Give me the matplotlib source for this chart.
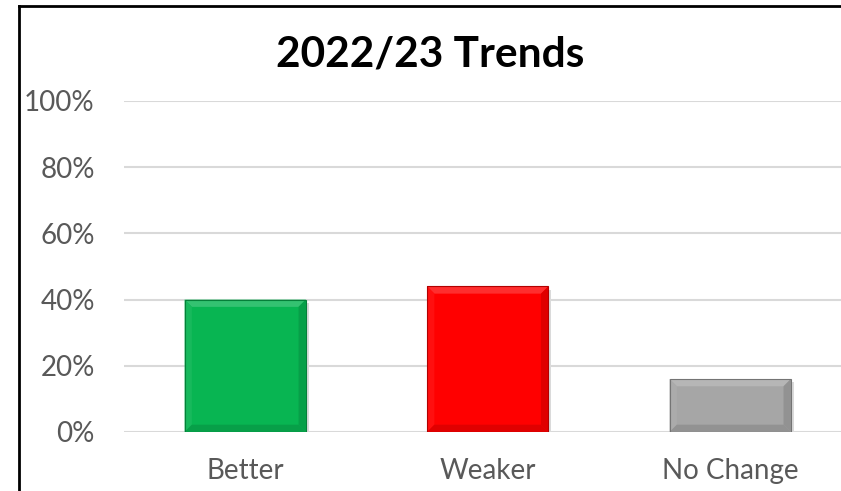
import matplotlib.pyplot as plt
from matplotlib.patches import Polygon
import matplotlib.colors as mcolors

categories = ['Better', 'Weaker', 'No Change']
shares = [0.40, 0.44, 0.16]
bar_colors = ['#08B552', '#FF0000', '#A6A6A6']
yticks = [0, 0.2, 0.4, 0.6, 0.8, 1.0]

plt.rcParams['font.family'] = ['Lato', 'DejaVu Sans']

fig = plt.figure(figsize=(8.41, 4.91), dpi=100)
ax = fig.add_axes([0.1474, 0.1202, 0.865, 0.6741])

width = 0.5
bars = ax.bar(range(len(categories)), shares, width=width, color=bar_colors,
              edgecolor='none', zorder=3)

# bevel look: light top, slightly darker bottom/right
bx, by = 0.03, 0.022
for rect, col in zip(bars, bar_colors):
    x0, y0 = rect.get_x(), rect.get_y()
    x1, y1 = x0 + rect.get_width(), y0 + rect.get_height()
    base = mcolors.to_rgb(col)
    light = tuple(min(1, c + (1 - c) * 0.18) for c in base)
    dark = tuple(c * 0.88 for c in base)
    edge = tuple(c * 0.7 for c in base)
    faces = [
        ([(x0, y1), (x1, y1), (x1 - bx, y1 - by), (x0 + bx, y1 - by)], light),
        ([(x0, y0), (x0, y1), (x0 + bx, y1 - by), (x0 + bx, y0 + by)], tuple(min(1, c + (1 - c) * 0.06) for c in base)),
        ([(x1, y0), (x1, y1), (x1 - bx, y1 - by), (x1 - bx, y0 + by)], dark),
        ([(x0, y0), (x1, y0), (x1 - bx, y0 + by), (x0 + bx, y0 + by)], dark),
    ]
    for pts, fc in faces:
        ax.add_patch(Polygon(pts, closed=True, facecolor=fc, edgecolor='none', zorder=4))
    ax.add_patch(Polygon([(x0, y0), (x1, y0), (x1, y1), (x0, y1)], closed=True,
                         facecolor='none', edgecolor=edge, linewidth=0.8, zorder=5))
    # soft shadow
    ax.add_patch(Polygon([(x0 + 0.01, y0 - 0.008), (x1 + 0.012, y0 - 0.008),
                          (x1 + 0.012, y1 - 0.01), (x1, y1 - 0.01), (x1, y0), (x0 + 0.01, y0)],
                         closed=True, facecolor='#DADADA', edgecolor='none', zorder=2))

ax.set_xlim(-0.5, 2.5)
ax.set_ylim(0, 1.0)
ax.set_yticks(yticks)
ax.set_yticklabels([f'{int(round(t * 100))}%' for t in yticks])
ax.set_xticks(range(len(categories)))
ax.set_xticklabels(categories)
ax.tick_params(axis='both', length=0, labelsize=20, colors='#595959')
ax.tick_params(axis='y', pad=21)
ax.tick_params(axis='x', pad=19)
ax.grid(axis='y', color='#D9D9D9', linewidth=1.5, zorder=0)
ax.set_axisbelow(True)
for s in ax.spines.values():
    s.set_visible(False)

fig.text(0.512, 0.89, '2022/23 Trends', ha='center', va='center',
         fontsize=30.5, fontweight='bold', color='black')

# chart frame (only left and top edges fall inside the image)
fig.add_artist(plt.Line2D([18.5 / 841, 18.5 / 841], [0, 1 - 5.5 / 491], color='black', linewidth=2))
fig.add_artist(plt.Line2D([18.5 / 841, 1], [1 - 5.5 / 491, 1 - 5.5 / 491], color='black', linewidth=2))

fig.savefig('out.png', dpi=100)
